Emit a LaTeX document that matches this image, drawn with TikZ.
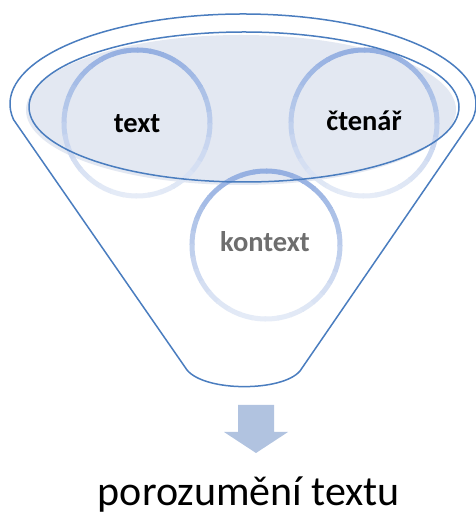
\documentclass[tikz,border=0pt]{standalone}
\usepackage{fontspec}
\setmainfont{Carlito}
\definecolor{funnelblue}{HTML}{4A7DBF}
\definecolor{ellfill}{HTML}{E3E8F2}
\definecolor{ringtop}{HTML}{94AFE1}
\definecolor{ringbot}{HTML}{E6ECF7}
\definecolor{arrowblue}{HTML}{B1C3E0}
\definecolor{ctxgray}{HTML}{6E6E6E}
\tikzset{
  funnelline/.style={draw=funnelblue, line width=1.5pt, line join=round},
  label/.style={font=\fontsize{28.5}{30}\selectfont\bfseries, anchor=base},
}
\newcommand{\gradring}[2]{%
  \foreach \i in {0,...,35}{%
    \pgfmathsetmacro{\mid}{10*\i+5}%
    \pgfmathsetmacro{\tt}{int(round(50+50*sin(\mid)))}%
    \draw[draw=ringtop!\tt!ringbot, line width=5pt]
      ($(#1)+({10*\i-1}:#2pt)$) arc[start angle={10*\i-1}, end angle={10*\i+10}, radius=#2pt];
  }%
}
\usetikzlibrary{calc}
\begin{document}
\begin{tikzpicture}[x=1pt,y=1pt]
\useasboundingbox (0,0) rectangle (475,513);
% outer funnel
\coordinate (oc) at (243,409);
\coordinate (bl) at (187,143);
\coordinate (br) at (300,142);
\draw[funnelline, fill=white] (oc) ++(190:233 and 90) coordinate (ol)
  arc[start angle=190, end angle=-10, x radius=233, y radius=90] coordinate (or)
  -- (br) .. controls (282,121) and (205,121) .. (bl) -- cycle;
% inner ellipse fill (offset)
\fill[ellfill] (241,403) ellipse[x radius=215, y radius=75];
% circles
\coordinate (ct) at (137,390);
\coordinate (cc) at (364,390);
\coordinate (ck) at (266,268);
\gradring{ct}{73}
\gradring{cc}{73}
\gradring{ck}{74}
% inner ellipse stroke
\draw[funnelline] (244,406) ellipse[x radius=215, y radius=75];
% labels
\node[label] (ltext) at (137,380) {text};
\node[label] (lcten) at (364,382) {čtenář};
\node[label, text=ctxgray] (lkont) at (265,261) {kontext};
% arrow
\fill[arrowblue] (238,108) -- (274,108) -- (274,81) -- (288,81) -- (256,60) -- (224,81) -- (238,81) -- cycle;
% bottom text
\node[font=\fontsize{42}{46}\selectfont, anchor=base] (result) at (249,8) {porozumění textu};
\end{tikzpicture}
\end{document}
